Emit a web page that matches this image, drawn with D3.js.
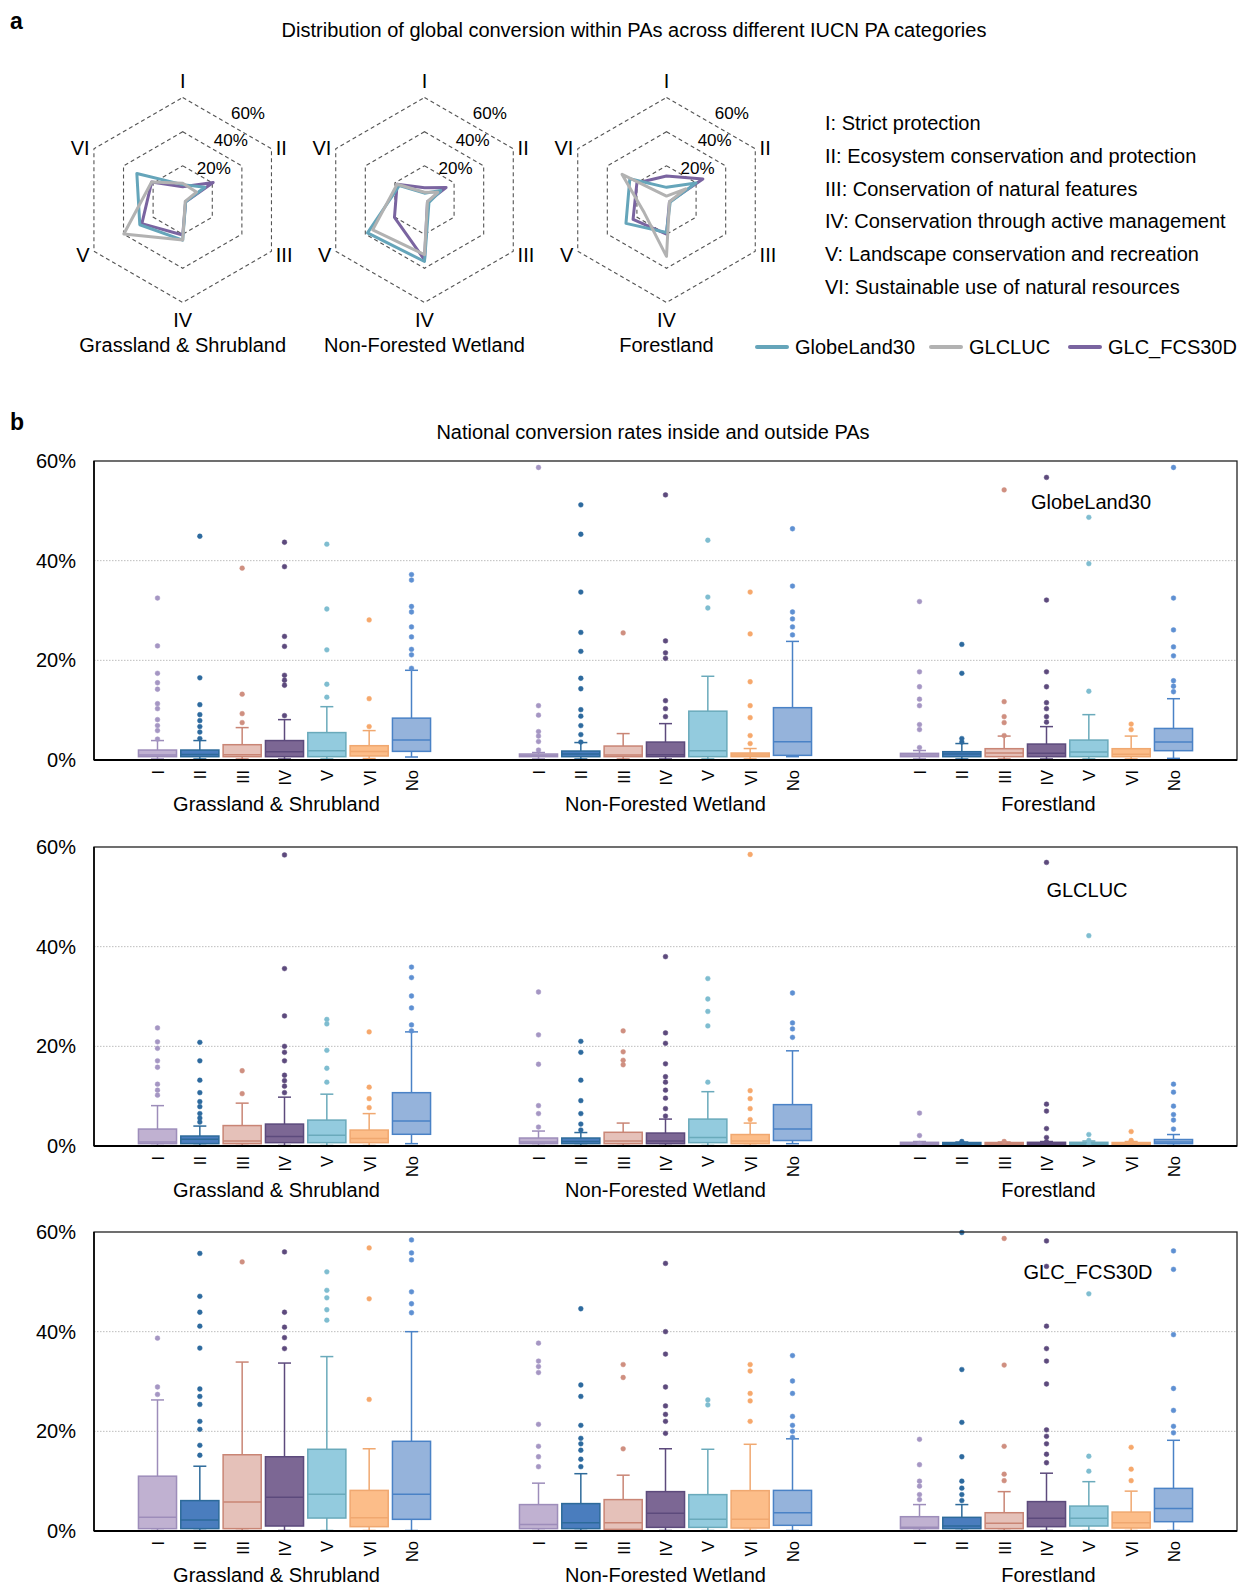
<!DOCTYPE html>
<html lang='en'>
<head>
<meta charset='UTF-8'>
<title>PA conversion</title>
<style>
  body { margin: 0; background: #fff; }
  svg { font-family: 'Liberation Sans', Arial, sans-serif; display: block; }
</style>
</head>
<body>
<svg></svg>
<script src='https://d3js.org/d3.v7.min.js'></script>
<script>
const width = 1240
const height = 1587

// ---------- data ----------
const iucnCats = ['I', 'II', 'III', 'IV', 'V', 'VI']
const iucnNames = [
  'I: Strict protection',
  'II: Ecosystem conservation and protection',
  'III: Conservation of natural features',
  'IV: Conservation through active management',
  'V: Landscape conservation and recreation',
  'VI: Sustainable use of natural resources'
]
const landCovers = ['Grassland & Shrubland', 'Non-Forested Wetland', 'Forestland']
const products = ['GlobeLand30', 'GLCLUC', 'GLC_FCS30D']
const productColors = ['#65a5ba', '#b2b2b2', '#7a64a0']

// radar values (%), order I..VI, one row per product
const radarGrass = [
  [9, 15, 2, 23.5, 29, 31],
  [9.8, 9.3, 1.7, 23.4, 39.8, 21],
  [7.8, 20.6, 2, 20.5, 27.6, 21]
]
const radarWetland = [
  [4, 11, 3, 36, 38.5, 17],
  [4.5, 9, 2, 32, 35, 18.5],
  [7.2, 14.6, 2, 35, 20.3, 18.5]
]
const radarForest = [
  [7.4, 20, 2.5, 19, 27.4, 24.8],
  [2.3, 13, 2, 33, 15, 30],
  [14, 24.6, 2, 20, 22.6, 20]
]
const radarData = [radarGrass, radarWetland, radarForest]

// box plots: [whiskerLow, q1, median, q3, whiskerHigh, outliers]
const boxCats = ['I', 'II', 'III', 'IV', 'V', 'VI', 'No']

const glbGrass = [
  [0.2, 0.67, 1.0, 2.0, 3.9, [32.5, 22.9, 17.4, 15.5, 14.2, 11.3, 10.3, 8.1, 6.9, 5.9, 4.2]],
  [0.2, 0.67, 1.1, 2.0, 3.9, [44.9, 16.5, 11.1, 9.1, 7.9, 6.7, 5.6, 4.3]],
  [0.2, 0.67, 1.07, 3.07, 6.5, [38.5, 13.2, 9.3, 7.5]],
  [0.2, 0.67, 1.67, 3.9, 8.1, [43.7, 38.8, 24.8, 22.8, 17, 16, 15, 8.9]],
  [0.2, 0.67, 1.87, 5.5, 10.7, [43.3, 30.3, 22.1, 15.2, 12.6]],
  [0.3, 0.8, 1.73, 2.87, 5.9, [28.1, 12.3, 6.7]],
  [0.6, 1.73, 4.0, 8.4, 18, [37.2, 36.1, 30.8, 29.7, 26.7, 24.7, 22.2, 21.1, 18.4]]
]
const glbWetland = [
  [0.2, 0.67, 0.9, 1.2, 1.5, [58.7, 10.9, 9.0, 5.7, 4.8, 3.7, 2.0]],
  [0.2, 0.67, 1.2, 1.8, 3.5, [51.2, 45.3, 33.7, 25.6, 21.8, 16.4, 14.3, 10.1, 8.8, 6.9, 5.1, 3.6]],
  [0.2, 0.67, 1.0, 2.8, 5.3, [25.5]],
  [0.2, 0.67, 1.07, 3.6, 7.3, [53.2, 23.9, 21.5, 20.4, 11.9, 10.3, 8.7]],
  [0.2, 0.67, 1.87, 9.8, 16.8, [44.1, 32.7, 30.5]],
  [0.2, 0.67, 1.0, 1.4, 2.3, [33.7, 25.3, 15.7, 10.9, 8.5, 4.9, 3.3]],
  [0.67, 0.93, 3.67, 10.5, 23.8, [46.4, 34.9, 29.7, 28.3, 26.7, 25.1]]
]
const glbForest = [
  [0.2, 0.67, 1.0, 1.33, 1.9, [31.8, 17.7, 14.7, 12.2, 10.9, 7.1, 6.1, 2.5]],
  [0.2, 0.67, 1.2, 1.67, 3.3, [23.2, 17.4, 4.3, 3.6]],
  [0.2, 0.67, 1.4, 2.27, 4.8, [54.2, 11.7, 8.7, 7.5, 4.9]],
  [0.2, 0.67, 1.33, 3.2, 6.7, [56.7, 32.1, 17.7, 14.7, 11.5, 10.3, 8.7, 7.6]],
  [0.2, 0.67, 1.6, 4.0, 9.1, [48.7, 39.4, 13.8]],
  [0.2, 0.67, 1.13, 2.27, 4.8, [7.2, 6.1]],
  [0.33, 1.87, 3.6, 6.33, 12.3, [58.7, 32.5, 26.1, 22.7, 20.9, 15.9, 14.8, 13.7]]
]

const glcGrass = [
  [0.1, 0.47, 0.8, 3.4, 8.1, [23.7, 20.9, 19.6, 17.1, 15.8, 12.4, 11.2, 10.2]],
  [0.1, 0.47, 1.35, 2.0, 4.0, [20.8, 17.1, 13.2, 10.7, 8.9, 7.9, 6.5, 5.6, 4.8]],
  [0.1, 0.47, 1.0, 4.1, 8.6, [15.1, 10.5]],
  [0.1, 0.67, 1.9, 4.4, 9.8, [58.4, 35.6, 26.1, 20.0, 18.8, 17.1, 14.2, 13.1, 12.0, 10.7]],
  [0.1, 0.67, 2.15, 5.2, 10.4, [25.4, 24.5, 19.2, 15.6, 12.8]],
  [0.1, 0.67, 1.5, 3.2, 6.5, [22.9, 11.8, 9.5, 7.7]],
  [0.47, 2.35, 5.0, 10.7, 22.9, [35.9, 33.8, 30.1, 27.7, 24.3, 23.1]]
]
const glcWetland = [
  [0.1, 0.47, 0.8, 1.6, 3.0, [30.9, 22.3, 16.4, 8.1, 6.5, 3.8]],
  [0.1, 0.47, 0.9, 1.6, 2.7, [21.0, 18.8, 13.2, 9.1, 6.5, 4.4, 3.2]],
  [0.1, 0.47, 1.0, 2.75, 4.6, [23.1, 18.9, 17.2, 16.3]],
  [0.1, 0.47, 1.0, 2.6, 5.4, [38.0, 22.7, 20.6, 16.5, 13.9, 12.8, 11.2, 9.6, 7.5, 6.0]],
  [0.1, 0.67, 1.7, 5.4, 10.9, [33.6, 29.5, 27.0, 24.1, 12.8]],
  [0.1, 0.47, 1.0, 2.3, 4.6, [58.5, 11.1, 9.5, 7.5, 5.3]],
  [0.47, 1.1, 3.4, 8.3, 19.1, [30.7, 24.7, 23.5, 21.8]]
]
const glcForest = [
  [0.1, 0.3, 0.5, 0.74, 0.9, [6.6, 2.1, 0.5]],
  [0.1, 0.3, 0.45, 0.7, 0.8, [0.9]],
  [0.1, 0.3, 0.45, 0.7, 0.8, [0.9]],
  [0.1, 0.3, 0.5, 0.74, 0.9, [56.9, 8.4, 7.0, 3.5, 1.7, 0.8]],
  [0.1, 0.3, 0.5, 0.74, 1.0, [42.2, 2.3, 1.1, 0.3]],
  [0.1, 0.3, 0.45, 0.7, 0.9, [2.9, 1.1]],
  [0.1, 0.47, 0.8, 1.3, 2.3, [12.4, 10.8, 8.0, 6.3, 5.2, 3.4]]
]

const fcsGrass = [
  [0.1, 0.47, 2.74, 11.0, 26.3, [38.7, 28.9, 27.4]],
  [0.1, 0.47, 2.2, 6.1, 13.0, [55.7, 47.1, 43.9, 41.1, 36.7, 28.5, 27.0, 25.4, 22.0, 20.4, 17.2, 15.2]],
  [0.1, 0.47, 5.8, 15.3, 33.9, [54.0]],
  [0.1, 1.0, 6.75, 14.9, 33.7, [56.0, 43.9, 40.9, 38.8, 36.6]],
  [0.1, 2.6, 7.35, 16.4, 35.0, [52.0, 48.3, 46.8, 44.4, 42.3]],
  [0.1, 0.87, 2.67, 8.15, 16.5, [56.8, 46.6, 26.4]],
  [0.1, 2.34, 7.35, 18.0, 40.0, [58.4, 55.8, 54.4, 48.0, 45.6, 43.8]]
]
const fcsWetland = [
  [0.1, 0.47, 1.3, 5.3, 9.6, [37.7, 34.1, 33.0, 31.8, 21.4, 17.0, 14.9, 12.9]],
  [0.1, 0.47, 1.67, 5.5, 11.5, [44.6, 29.3, 27.0, 21.2, 18.6, 17.5, 16.2, 14.4, 12.9]],
  [0.1, 0.33, 1.67, 6.3, 11.2, [33.4, 30.8, 16.5]],
  [0.1, 0.73, 3.54, 7.9, 16.5, [53.7, 40.0, 35.5, 28.9, 25.1, 23.4, 22.0, 19.6]],
  [0.1, 0.73, 2.34, 7.3, 16.4, [26.3, 25.3]],
  [0.1, 0.6, 2.34, 8.1, 17.4, [33.4, 32.1, 27.6, 26.1, 22.0]],
  [0.1, 1.14, 3.67, 8.15, 18.5, [35.2, 30.1, 27.6, 23.0, 21.2, 20.0, 18.8]]
]
const fcsForest = [
  [0.1, 0.47, 0.73, 2.87, 5.3, [18.4, 13.3, 10.0, 9.0, 7.3, 6.3]],
  [0.1, 0.47, 1.0, 2.74, 5.3, [59.9, 32.4, 21.8, 14.9, 10.0, 8.6, 7.3, 6.1]],
  [0.1, 0.47, 1.54, 3.67, 7.9, [58.7, 33.3, 17.0, 11.4, 10.1]],
  [0.1, 0.87, 2.54, 5.9, 11.6, [58.2, 53.1, 41.1, 36.6, 34.1, 29.5, 20.3, 19.0, 17.5, 15.4, 13.7]],
  [0.1, 1.0, 2.54, 5.0, 9.9, [47.6, 15.0, 12.0]],
  [0.1, 0.6, 1.67, 3.8, 8.0, [16.8, 12.4, 10.1]],
  [0.1, 1.87, 4.54, 8.55, 18.2, [56.2, 52.5, 39.4, 28.6, 24.2, 21.0, 19.7]]
]
const boxData = [
  [glbGrass, glbWetland, glbForest],
  [glcGrass, glcWetland, glcForest],
  [fcsGrass, fcsWetland, fcsForest]
]

const yTicks = [0, 20, 40, 60]

// category colours
const catFill = ['#c0b1d1', '#4a7dbe', '#e5c1b9', '#7c6794', '#93cbde', '#fcbd89', '#95b3db']
const catStroke = ['#9d8dba', '#2d6a9a', '#c98575', '#5c4a7c', '#6aaabb', '#f0a870', '#4a82c6']
const dotCol = ['#a596c3', '#2d6a9e', '#cf8f80', '#5d4a7d', '#7fbdd0', '#f6a86c', '#5e90d2']

// ---------- drawing ----------
const svg = d3.select('svg')
  .attr('width', width)
  .attr('height', height)

svg.append('text').attr('x', 10).attr('y', 29)
  .attr('font-size', 23).attr('font-weight', 'bold').text('a')
svg.append('text').attr('x', 634).attr('y', 37)
  .attr('text-anchor', 'middle').attr('font-size', 20)
  .text('Distribution of global conversion within PAs across different IUCN PA categories')

// --- radar charts ---
const radarR = d3.scaleLinear().domain([0, 60]).range([0, 102.5])
const radarCx = [182.7, 424.5, 666.5]
const radarCy = 200
const ang = i => i * Math.PI / 3

const ring = d3.lineRadial()
  .angle((d, i) => ang(i))
  .radius(d => radarR(d))
  .curve(d3.curveLinearClosed)

landCovers.forEach((lc, k) => {
  const g = svg.append('g').attr('transform', `translate(${radarCx[k]},${radarCy})`)

  ;[20, 40, 60].forEach(v => {
    g.append('path')
      .attr('d', ring(iucnCats.map(() => v)))
      .attr('fill', 'none')
      .attr('stroke', '#555')
      .attr('stroke-width', 1.1)
      .attr('stroke-dasharray', '4,3')
    const a = -Math.PI / 3
    g.append('text')
      .attr('x', radarR(v) * Math.cos(a) - 3)
      .attr('y', radarR(v) * Math.sin(a) - (v === 20 ? 4 : v === 40 ? 2 : 0))
      .attr('dy', '0.45em')
      .attr('font-size', 17)
      .text(v + '%')
  })

  const order = [2, 0, 1]
  order.forEach(p => {
    g.append('path')
      .attr('d', ring(radarData[k][p]))
      .attr('fill', 'none')
      .attr('stroke', productColors[p])
      .attr('stroke-width', 3)
      .attr('stroke-linejoin', 'round')
  })

  const R = radarR(60)
  iucnCats.forEach((c, i) => {
    const a = ang(i) - Math.PI / 2
    const cx = Math.cos(a), sy = Math.sin(a)
    let x = (R + 5) * cx, y = R * sy + (sy > 0 ? 4 : -1), anchor = 'middle'
    if (Math.abs(cx) < 0.1) {
      y = sy < 0 ? -R - 17 : R + 17
    } else {
      anchor = cx > 0 ? 'start' : 'end'
    }
    g.append('text')
      .attr('x', x).attr('y', y).attr('dy', '0.35em')
      .attr('text-anchor', anchor)
      .attr('font-size', 20)
      .text(c)
  })

  g.append('text')
    .attr('x', 0).attr('y', 152)
    .attr('text-anchor', 'middle')
    .attr('font-size', 20)
    .text(lc)
})

// category definitions
svg.append('g').selectAll('text')
  .data(iucnNames).join('text')
  .attr('x', 825)
  .attr('y', (d, i) => 130 + i * 32.8)
  .attr('font-size', 20)
  .text(d => d)

// product legend
const legX = [757, 931, 1070]
products.forEach((p, i) => {
  svg.append('line')
    .attr('x1', legX[i]).attr('x2', legX[i] + 30)
    .attr('y1', 347).attr('y2', 347)
    .attr('stroke', productColors[i])
    .attr('stroke-width', 4)
    .attr('stroke-linecap', 'round')
  svg.append('text')
    .attr('x', legX[i] + 38).attr('y', 354)
    .attr('font-size', 20)
    .text(p)
})

// --- box plot panels ---
svg.append('text').attr('x', 10).attr('y', 430)
  .attr('font-size', 23).attr('font-weight', 'bold').text('b')
svg.append('text').attr('x', 653).attr('y', 439)
  .attr('text-anchor', 'middle').attr('font-size', 20)
  .text('National conversion rates inside and outside PAs')

const plotLeft = 94, plotRight = 1237, plotH = 299
const panelTops = [461, 847, 1232]
const labelPos = [[1091, 509], [1087, 897], [1088, 1279]]
const groupLabelDx = [-8, 0, 2]

const xGroup = d3.scaleBand().domain(landCovers).range([plotLeft, plotRight])
const xCat = d3.scalePoint().domain(boxCats).range([0, xGroup.bandwidth()]).padding(1.5)
const boxW = xCat.step() * 0.9
const capW = 13

products.forEach((prod, p) => {
  const g = svg.append('g').attr('transform', `translate(0,${panelTops[p]})`)
  const y = d3.scaleLinear().domain([0, 60]).range([plotH, 0])

  // grid
  g.append('g').selectAll('line')
    .data([20, 40]).join('line')
    .attr('x1', plotLeft).attr('x2', plotRight)
    .attr('y1', d => y(d)).attr('y2', d => y(d))
    .attr('stroke', '#bdbdbd')
    .attr('stroke-dasharray', '1.5,1.5')

  // y axis labels
  g.append('g')
    .attr('transform', `translate(${plotLeft},0)`)
    .call(d3.axisLeft(y).tickValues(yTicks).tickFormat(d => d + '%').tickSize(0).tickPadding(18))
    .call(a => a.select('.domain').remove())
    .selectAll('text')
    .attr('font-size', 20)
    .attr('font-family', "'Liberation Sans', Arial, sans-serif")
    .attr('fill', '#000')

  landCovers.forEach((lc, k) => {
    const gx = xGroup(lc)
    const grp = g.append('g').attr('transform', `translate(${gx},0)`)
    const rows = boxData[p][k]

    rows.forEach((r, i) => {
      const [lo, q1, med, q3, hi, outs] = r
      const cx = xCat(boxCats[i])
      const st = catStroke[i]
      const b = grp.append('g')
      b.append('line')
        .attr('x1', cx).attr('x2', cx).attr('y1', y(hi)).attr('y2', y(q3))
        .attr('stroke', st).attr('stroke-width', 1.5)
      b.append('line')
        .attr('x1', cx).attr('x2', cx).attr('y1', y(q1)).attr('y2', y(lo))
        .attr('stroke', st).attr('stroke-width', 1.5)
      b.append('line')
        .attr('x1', cx - capW / 2).attr('x2', cx + capW / 2)
        .attr('y1', y(hi)).attr('y2', y(hi))
        .attr('stroke', st).attr('stroke-width', 1.5)
      b.append('line')
        .attr('x1', cx - capW / 2).attr('x2', cx + capW / 2)
        .attr('y1', y(lo)).attr('y2', y(lo))
        .attr('stroke', st).attr('stroke-width', 1.5)
      b.append('rect')
        .attr('x', cx - boxW / 2).attr('width', boxW)
        .attr('y', y(q3)).attr('height', Math.max(1, y(q1) - y(q3)))
        .attr('fill', catFill[i])
        .attr('stroke', st).attr('stroke-width', 1.5)
      b.append('line')
        .attr('x1', cx - boxW / 2).attr('x2', cx + boxW / 2)
        .attr('y1', y(med)).attr('y2', y(med))
        .attr('stroke', st).attr('stroke-width', 1.5)
      b.selectAll('circle')
        .data(outs).join('circle')
        .attr('cx', cx).attr('cy', d => y(d))
        .attr('r', 2.4)
        .attr('fill', dotCol[i])
        .attr('stroke', dotCol[i])
        .attr('stroke-opacity', 0.6)
        .attr('stroke-width', 0.8)
    })

    // category tick labels
    grp.append('g')
      .attr('transform', `translate(0,${plotH})`)
      .call(d3.axisBottom(xCat).tickSize(0).tickPadding(0))
      .call(a => a.select('.domain').remove())
      .selectAll('text')
      .attr('font-size', 16.5)
      .attr('font-family', "'Liberation Sans', Arial, sans-serif")
      .attr('fill', '#000')
      .attr('text-anchor', 'end')
      .attr('transform', 'rotate(-90)')
      .attr('x', -10).attr('y', 0).attr('dy', '0.36em')

    grp.append('text')
      .attr('x', xCat('IV') + groupLabelDx[k])
      .attr('y', plotH + 51)
      .attr('text-anchor', 'middle')
      .attr('font-size', 20)
      .text(lc)
  })

  // frame
  g.append('rect')
    .attr('x', plotLeft).attr('y', 0)
    .attr('width', plotRight - plotLeft).attr('height', plotH)
    .attr('fill', 'none').attr('stroke', '#222').attr('stroke-width', 1.3)
  g.append('line')
    .attr('x1', plotLeft).attr('x2', plotRight)
    .attr('y1', plotH).attr('y2', plotH)
    .attr('stroke', '#000').attr('stroke-width', 2)
  g.append('line')
    .attr('x1', plotLeft).attr('x2', plotLeft)
    .attr('y1', 0).attr('y2', plotH)
    .attr('stroke', '#000').attr('stroke-width', 1.6)

  svg.append('text')
    .attr('x', labelPos[p][0]).attr('y', labelPos[p][1])
    .attr('text-anchor', 'middle')
    .attr('font-size', 20)
    .text(prod)
})
</script>
</body>
</html>
